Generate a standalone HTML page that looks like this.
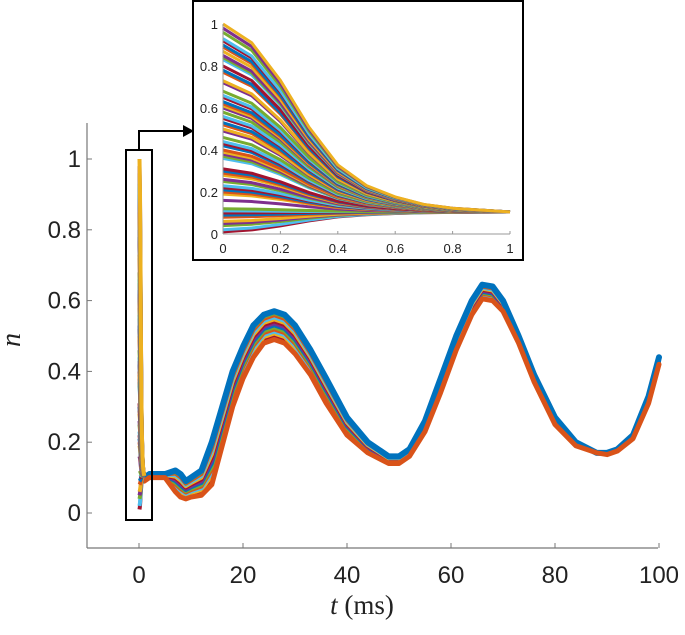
<!DOCTYPE html>
<html><head><meta charset="utf-8"><style>
html,body{margin:0;padding:0;background:#fff;}
svg{display:block;font-family:"Liberation Sans",sans-serif;}
</style></head><body>
<svg id="chart" width="685" height="635" viewBox="0 0 685 635">
<g id="main"></g>
<g id="inset"></g>
</svg>
<script>
// ---- data ----
const mainTime = [1,2,3,5,7,8,9,10,12,14,16,18,20,22,24,26,28,30,33,36,40,44,48,50,52,55,58,61,64,66,68,70,73,76,80,84,88,90,92,95,98,100];
const upperSeries = [0.10,0.11,0.11,0.11,0.12,0.11,0.09,0.10,0.12,0.20,0.30,0.40,0.47,0.53,0.56,0.57,0.56,0.53,0.46,0.38,0.27,0.20,0.16,0.16,0.18,0.26,0.38,0.50,0.60,0.645,0.64,0.60,0.50,0.39,0.27,0.20,0.17,0.17,0.18,0.22,0.33,0.44];
const lowerSeries = [0.09,0.10,0.10,0.10,0.06,0.045,0.04,0.045,0.05,0.08,0.19,0.30,0.38,0.44,0.48,0.49,0.48,0.45,0.39,0.31,0.22,0.17,0.14,0.14,0.16,0.23,0.34,0.46,0.56,0.605,0.60,0.57,0.48,0.37,0.25,0.19,0.17,0.165,0.175,0.21,0.31,0.42];
const initialValues = [1.0,0.98,0.96,0.93,0.92,0.9,0.89,0.87,0.85,0.84,0.83,0.8,0.78,0.77,0.73,0.72,0.68,0.66,0.65,0.63,0.62,0.61,0.6,0.58,0.56,0.55,0.53,0.52,0.5,0.49,0.46,0.44,0.43,0.42,0.4,0.39,0.38,0.37,0.36,0.31,0.3,0.29,0.28,0.26,0.25,0.23,0.22,0.21,0.2,0.19,0.16,0.12,0.11,0.1,0.09,0.08,0.06,0.05,0.04,0.02,0.01];
const insetTime = [0,0.1,0.2,0.3,0.4,0.5,0.6,0.7,0.8,0.9,1.0];
const decayFraction = [1,0.9,0.7,0.45,0.25,0.14,0.08,0.04,0.02,0.01,0];
const steadyValue = 0.105;
const mainXTicks = [0,20,40,60,80,100];
const mainYTicks = [0,0.2,0.4,0.6,0.8,1];
const mainYTickLabels = ["0","0.2","0.4","0.6","0.8","1"];
const insetXTicks = [0,0.2,0.4,0.6,0.8,1];
const insetXTickLabels = ["0","0.2","0.4","0.6","0.8","1"];
const insetYTicks = [0,0.2,0.4,0.6,0.8,1];
const insetYTickLabels = ["0","0.2","0.4","0.6","0.8","1"];
const colors = ["#0072BD","#D95319","#EDB120","#7E2F8E","#77AC30","#4DBEEE","#A2142F"];

const NS="http://www.w3.org/2000/svg";
function mk(parent,tag,attrs,text){const e=document.createElementNS(NS,tag);for(const k in attrs)e.setAttribute(k,attrs[k]);if(text!==undefined)e.textContent=text;parent.appendChild(e);return e;}

const mx=v=>87+(v+10)*5.2;
const my=v=>513-v*354;
const main=document.getElementById('main');
const insetCurve = n0 => decayFraction.map(f=>steadyValue+(n0-steadyValue)*f);
const colorFor = j => colors[(j+2)%7];

let ax=mk(main,'line',{x1:87,y1:548,x2:658,y2:548,stroke:'#777','stroke-width':1.2});

ax=mk(main,'line',{x1:87,y1:123,x2:87,y2:548,stroke:'#777','stroke-width':1.2});

mainXTicks.forEach(t=>{
  let l=mk(main,'line',{x1:mx(t),y1:548,x2:mx(t),y2:543,stroke:'#777'});
  
  let tx=mk(main,'text',{x:mx(t),y:583,'font-size':24,'text-anchor':'middle',fill:'#222'},String(t));
  
});
mainYTicks.forEach((v,i)=>{
  let l=mk(main,'line',{x1:87,y1:my(v),x2:92,y2:my(v),stroke:'#777'});
  
  let tx=mk(main,'text',{x:81,y:my(v)+8,'font-size':24,'text-anchor':'end',fill:'#222'},mainYTickLabels[i]);
  
});
let yl=mk(main,'text',{x:20,y:340,'font-size':28,'font-style':'italic','font-family':'Liberation Serif, serif',fill:'#222','text-anchor':'middle',transform:'rotate(-90 20 340)'},'n');

let xl=mk(main,'text',{x:362,y:614,'font-size':27,'font-family':'Liberation Serif, serif',fill:'#222','text-anchor':'middle'});

mk(xl,'tspan',{'font-style':'italic'},'t');mk(xl,'tspan',{},' (ms)');

// main band: middle lines, then blue top, then orange bottom last
const nBand=14;
const order=[];
for(let k=1;k<nBand;k++)order.push(k);
order.push(nBand);order.push(0);
order.forEach(k=>{
  const w=k/nBand;
  const pts=mainTime.map((t,i)=>mx(t)+','+my(lowerSeries[i]+(upperSeries[i]-lowerSeries[i])*w)).join(' ');
  const col = k===nBand?colors[0]:(k===0?colors[1]:colors[(k*3)%7]);
  let p=mk(main,'polyline',{points:pts,fill:'none',stroke:col,'stroke-width':k===nBand?6:(k===0?5:4),'stroke-linejoin':'round','stroke-linecap':'round'});
  
});
// spike
for(let j=initialValues.length-1;j>=0;j--){
  const c=insetCurve(initialValues[j]);
  const pts=insetTime.map((t,i)=>(mx(t*0.9)+0.5)+','+my(c[i])).join(' ');
  let p=mk(main,'polyline',{points:pts,fill:'none',stroke:colorFor(j),'stroke-width':4});
  
}
let hb=mk(main,'rect',{x:126,y:150,width:26,height:370,fill:'none',stroke:'#000','stroke-width':2});

let ar=mk(main,'polyline',{points:'139,150 139,131 185,131',fill:'none',stroke:'#000','stroke-width':2});

let ah=mk(main,'polygon',{points:'183,125 194,131 183,137',fill:'#000'});


// inset
const ix=v=>223+v*287;
const iy=v=>234-v*210;
const inset=document.getElementById('inset');
let bg=mk(inset,'rect',{x:193,y:1,width:330,height:259,fill:'#fff',stroke:'#000','stroke-width':2});

for(let j=initialValues.length-1;j>=0;j--){
  const c=insetCurve(initialValues[j]);
  const pts=insetTime.map((t,i)=>ix(t)+','+iy(c[i])).join(' ');
  let p=mk(inset,'polyline',{points:pts,fill:'none',stroke:colorFor(j),'stroke-width':3,'stroke-linejoin':'round'});
  
}
ax=mk(inset,'line',{x1:223,y1:234,x2:510,y2:234,stroke:'#999'});

ax=mk(inset,'line',{x1:223,y1:24,x2:223,y2:234,stroke:'#999'});

insetXTicks.forEach((t,i)=>{
  mk(inset,'line',{x1:ix(t),y1:234,x2:ix(t),y2:231,stroke:'#999'});
  let tx=mk(inset,'text',{x:ix(t),y:253,'font-size':13,'text-anchor':'middle',fill:'#222'},insetXTickLabels[i]);
  
});
insetYTicks.forEach((v,i)=>{
  let tx=mk(inset,'text',{x:218,y:iy(v)+5,'font-size':13,'text-anchor':'end',fill:'#222'},insetYTickLabels[i]);
  
});
</script>
</body></html>
